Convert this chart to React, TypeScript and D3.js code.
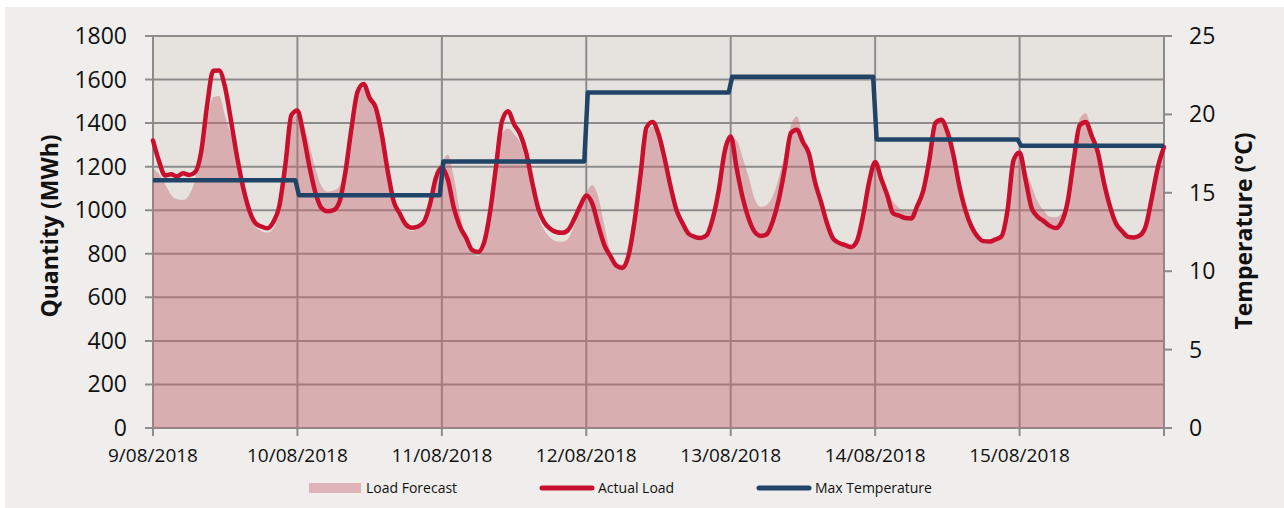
import React from 'react';
import * as d3 from 'd3';

// hourly values, 9/08/2018 00:00 -> 16/08/2018 00:00
const dayLabels = ['9/08/2018', '10/08/2018', '11/08/2018', '12/08/2018', '13/08/2018', '14/08/2018', '15/08/2018'];
const maxTemp = [15.8, 14.85, 17.0, 21.4, 22.4, 18.4, 18.0];
const loadTicks = [0, 200, 400, 600, 800, 1000, 1200, 1400, 1600, 1800];
const tempTicks = [0, 5, 10, 15, 20, 25];

const actualLoad = [
  1320, 1225, 1160, 1165, 1155, 1170, 1162, 1175, 1267, 1483, 1640, 1642, 1561, 1405, 1240, 1102, 1000, 941, 925, 917, 946, 1020, 1210, 1437,
  1458, 1345, 1200, 1080, 1010, 995, 1000, 1040, 1180, 1380, 1545, 1580, 1515, 1472, 1350, 1180, 1040, 985, 935, 920, 925, 946, 1024, 1148,
  1195, 1140, 1010, 925, 875, 818, 808, 850, 990, 1200, 1410, 1455, 1395, 1350, 1265, 1130, 1010, 945, 915, 900, 896, 910, 960, 1020,
  1068, 1030, 930, 840, 790, 745, 735, 790, 946, 1160, 1380, 1405, 1350, 1240, 1110, 1000, 940, 892, 878, 873, 885, 960, 1090, 1270,
  1338, 1190, 1056, 960, 900, 882, 890, 950, 1050, 1194, 1355, 1370, 1313, 1260, 1130, 1038, 940, 870, 850, 840, 831, 860, 975, 1130,
  1222, 1145, 1070, 985, 975, 964, 962, 1020, 1090, 1230, 1400, 1415, 1360, 1254, 1110, 1000, 925, 880, 858, 856, 866, 880, 1000, 1230,
  1265, 1140, 1010, 970, 950, 928, 918, 946, 1040, 1230, 1390, 1405, 1340, 1267, 1130, 1020, 940, 905, 878, 875, 884, 930, 1060, 1200,
  1290,
];

const loadForecast = [
  1190, 1165, 1120, 1070, 1050, 1047, 1070, 1140, 1290, 1420, 1520, 1525, 1430, 1340, 1210, 1080, 975, 925, 905, 898, 915, 1000, 1190, 1400,
  1440, 1400, 1300, 1190, 1110, 1085, 1090, 1110, 1220, 1390, 1530, 1560, 1500, 1440, 1330, 1160, 1030, 960, 920, 905, 915, 940, 1040, 1180,
  1220, 1255, 1150, 990, 870, 805, 790, 825, 950, 1180, 1350, 1375, 1350, 1310, 1220, 1090, 975, 910, 875, 858, 855, 870, 930, 1010,
  1080, 1115, 1060, 930, 810, 762, 750, 800, 940, 1160, 1350, 1385, 1340, 1240, 1110, 1000, 940, 895, 875, 865, 875, 950, 1080, 1260,
  1335, 1320, 1240, 1150, 1050, 1015, 1025, 1065, 1150, 1260, 1390, 1430, 1330, 1260, 1130, 1010, 930, 870, 848, 838, 835, 860, 965, 1130,
  1215, 1165, 1090, 1040, 1010, 995, 995, 1030, 1100, 1260, 1390, 1410, 1350, 1250, 1120, 1000, 920, 880, 865, 860, 862, 870, 1010, 1220,
  1265, 1190, 1110, 1040, 1000, 970, 968, 985, 1060, 1270, 1420, 1445, 1360, 1270, 1130, 1010, 930, 890, 870, 868, 875, 920, 1060, 1210,
  1280,
];

const start = new Date(2018, 7, 9);
const end = new Date(2018, 7, 16);
const font = "'Open Sans', sans-serif";
const red = '#c8102e';
const blue = '#1f4467';
const grid = '#8c8c8c';

export default function App() {
  const width = 1284;
  const height = 508;
  const left = 153, right = 1164, top = 36, bottom = 428;

  const x = d3.scaleTime().domain([start, end]).range([left, right]);
  const y = d3.scaleLinear().domain([0, 1800]).range([bottom, top]);
  const yT = d3.scaleLinear().domain([0, 25]).range([bottom, top]);

  const hour = (i: number) => d3.timeHour.offset(start, i);
  const dayStarts = d3.timeDay.range(start, d3.timeDay.offset(end, 1));

  const area = d3.area<number>()
    .x((_, i) => x(hour(i)))
    .y0(y(0))
    .y1(d => y(d))
    .curve(d3.curveMonotoneX);

  const line = d3.line<number>()
    .x((_, i) => x(hour(i)))
    .y(d => y(d))
    .curve(d3.curveMonotoneX);

  // daily max temperature held for the whole day
  const tempPts: [Date, number][] = [];
  maxTemp.forEach((t, i) => {
    tempPts.push([d3.timeMinute.offset(hour(i * 24), i === 0 ? 0 : 15), t]);
    tempPts.push([d3.timeMinute.offset(hour(i * 24 + 24), i === maxTemp.length - 1 ? 0 : -20), t]);
  });
  const tempLine = d3.line<[Date, number]>()
    .x(d => x(d[0]))
    .y(d => yT(d[1]));

  return (
    <svg width={width} height={height} style={{ position: 'absolute', left: 0, top: 0, display: 'block' }}>
      <rect x={0} y={0} width={width} height={height} fill="#fff" />
      <rect x={5} y={7} width={width - 5} height={height - 7} fill="#efeeec" />
      <rect x={left} y={top} width={right - left} height={bottom - top} fill="#e6e3df" />

      {loadTicks.map(v => (
        <line key={'h' + v} x1={left - 8} x2={right} y1={y(v)} y2={y(v)} stroke={grid} strokeWidth={2} />
      ))}
      {dayStarts.map((d, i) => (
        <line key={'v' + i} x1={x(d)} x2={x(d)} y1={top} y2={bottom + 8} stroke={grid} strokeWidth={2} />
      ))}
      {tempTicks.map(v => (
        <line key={'t' + v} x1={right} x2={right + 8} y1={yT(v)} y2={yT(v)} stroke={grid} strokeWidth={2} />
      ))}

      <path d={area(loadForecast) || ''} fill="rgb(199,101,111)" fillOpacity={0.42} />
      <path d={line(actualLoad) || ''} fill="none" stroke={red} strokeWidth={4.5} strokeLinejoin="round" strokeLinecap="round" />
      <path d={tempLine(tempPts) || ''} fill="none" stroke={blue} strokeWidth={4.5} strokeLinejoin="round" />

      <g fontFamily={font} fontSize={23} fill="#111">
        {loadTicks.map(v => (
          <text key={'yl' + v} x={127} y={y(v)} dy="0.35em" textAnchor="end">{v}</text>
        ))}
        {tempTicks.map(v => (
          <text key={'yr' + v} x={1189} y={yT(v)} dy="0.35em">{v}</text>
        ))}
      </g>
      <g fontFamily={font} fontSize={19} fill="#111">
        {dayLabels.map((lab, i) => (
          <text key={lab} x={x(dayStarts[i])} y={462} textAnchor="middle">{lab}</text>
        ))}
      </g>

      <text transform="translate(58,226) rotate(-90)" textAnchor="middle" fontFamily={font} fontWeight="bold" fontSize={23} fill="#111">Quantity (MWh)</text>
      <text transform="translate(1252,231) rotate(-90)" textAnchor="middle" fontFamily={font} fontWeight="bold" fontSize={23} fill="#111">Temperature (°C)</text>

      <g fontFamily={font} fontSize={14} fill="#111">
        <rect x={309} y={483} width={52} height={10} fill="rgb(199,101,111)" fillOpacity={0.42} />
        <text x={366} y={493}>Load Forecast</text>
        <line x1={542} x2={592} y1={488} y2={488} stroke={red} strokeWidth={5} strokeLinecap="round" />
        <text x={598} y={493}>Actual Load</text>
        <line x1={759} x2={809} y1={488} y2={488} stroke={blue} strokeWidth={5} strokeLinecap="round" />
        <text x={815} y={493}>Max Temperature</text>
      </g>
    </svg>
  );
}
